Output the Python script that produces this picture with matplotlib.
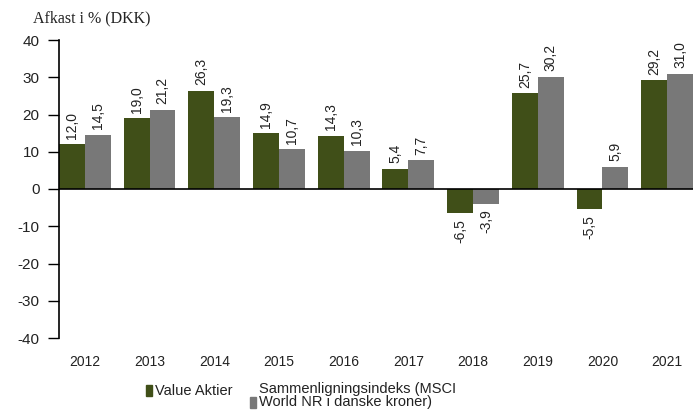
import matplotlib
matplotlib.use("Agg")
import matplotlib.pyplot as plt
from matplotlib.patches import Rectangle
import numpy as np

years = ["2012", "2013", "2014", "2015", "2016", "2017", "2018", "2019", "2020", "2021"]
value_aktier = [12.0, 19.0, 26.3, 14.9, 14.3, 5.4, -6.5, 25.7, -5.5, 29.2]
benchmark = [14.5, 21.2, 19.3, 10.7, 10.3, 7.7, -3.9, 30.2, 5.9, 31.0]
yticks = [40, 30, 20, 10, 0, -10, -20, -30, -40]

green = "#404F18"
gray = "#787878"
font = "Liberation Sans"

fig = plt.figure(figsize=(6.93, 4.18), dpi=100)
ax = fig.add_axes([59/693, 1-338/418, 1-59/693, (338-40)/418])

x = np.arange(len(years))
w = 0.4
ax.bar(x - w/2, value_aktier, w, color=green, zorder=2)
ax.bar(x + w/2, benchmark, w, color=gray, zorder=2)
ax.axhline(0, color="black", lw=1.2, zorder=3)

def fmt(v):
    return f"{v:.1f}".replace(".", ",")

for xs, vals in ((x - w/2, value_aktier), (x + w/2, benchmark)):
    for xi, v in zip(xs, vals):
        if v >= 0:
            ax.annotate(fmt(v), (xi, v), xytext=(0, 4), textcoords="offset points",
                        rotation=90, ha="center", va="bottom", fontsize=10,
                        family=font, color="#222222")
        else:
            ax.annotate(fmt(v), (xi, v), xytext=(0, -4), textcoords="offset points",
                        rotation=90, ha="center", va="top", fontsize=10,
                        family=font, color="#222222")

ax.set_xlim(-0.4, 9.4)
ax.set_ylim(-40, 40)
ax.set_yticks(yticks)
ax.set_yticklabels([str(t) for t in yticks], family=font, fontsize=11, color="#222222")
ax.set_xticks(x)
ax.set_xticklabels(years, family=font, fontsize=10, color="#222222")
ax.tick_params(axis="x", length=0, pad=12)
ax.tick_params(axis="y", length=8, width=1, direction="out", pad=6)
for s in ("top", "right", "bottom"):
    ax.spines[s].set_visible(False)
ax.spines["left"].set_linewidth(1.2)

fig.text(33/693, 1-18/418, "Afkast i % (DKK)", family="Liberation Serif",
         fontsize=11.5, ha="left", va="center", color="#222222")

# legend
fig.patches.append(Rectangle((146/693, 1-396/418), 6/693, 11/418,
                             transform=fig.transFigure, color=green))
fig.text(155/693, 1-391/418, "Value Aktier", family=font, fontsize=10.5,
         ha="left", va="center", color="#222222")
fig.patches.append(Rectangle((250/693, 1-408/418), 6/693, 11/418,
                             transform=fig.transFigure, color=gray))
fig.text(259/693, 1-382/418, "Sammenligningsindeks (MSCI\nWorld NR i danske kroner)",
         family=font, fontsize=10.5, ha="left", va="top", color="#222222",
         linespacing=0.95)

fig.savefig("out.png", dpi=100)
